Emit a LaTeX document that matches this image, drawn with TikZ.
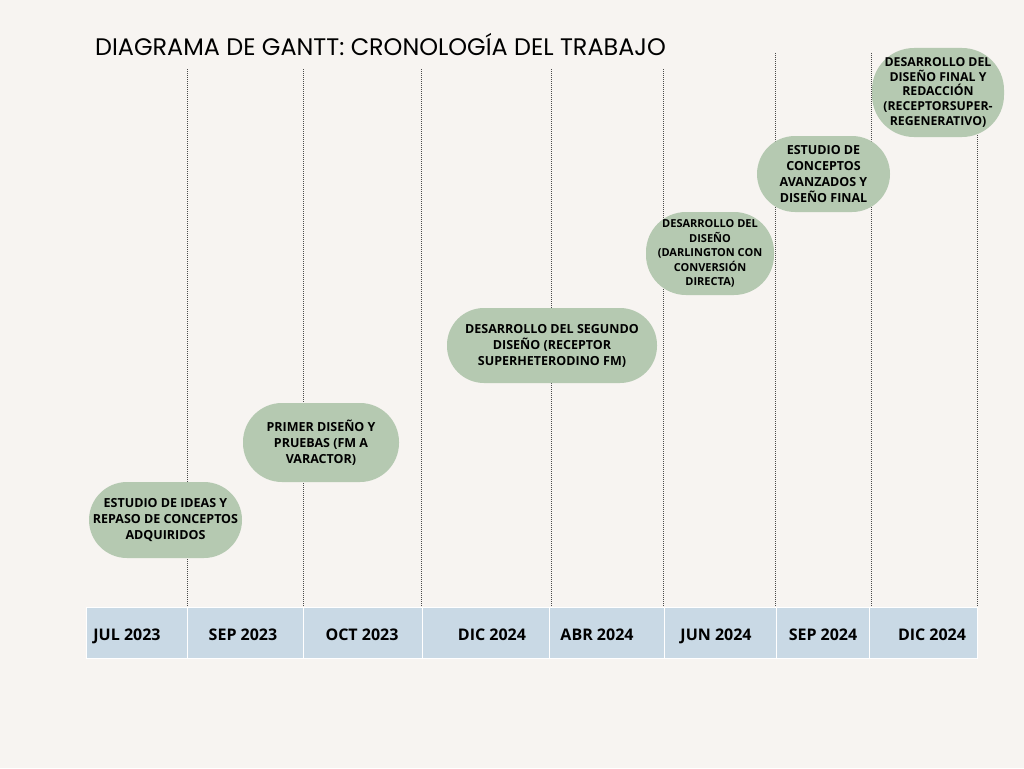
\documentclass[tikz,border=0pt]{standalone}
\usepackage{fontspec}
\usepackage{tikz}
\usetikzlibrary{calc}
\newfontfamily\titlefont{Poppins}
\newfontfamily\boxfont{Open Sans}
\definecolor{paper}{HTML}{F7F4F1}
\definecolor{sage}{HTML}{B5C9B1}
\definecolor{cellblue}{HTML}{C9D9E5}
\definecolor{guide}{HTML}{4A4A4A}

\begin{document}
\begin{tikzpicture}[x=1pt,y=-1pt]
    \tikzstyle{task}=[fill=sage,draw=none,inner sep=0pt,align=center,font=\boxfont\bfseries\fontsize{12.5}{16}\selectfont]
    \tikzstyle{month}=[fill=cellblue,draw=white,line width=0.8pt,minimum height=51pt,inner sep=0pt]
    \tikzstyle{monthlabel}=[anchor=base,font=\boxfont\bfseries\fontsize{16}{18}\selectfont]
    \tikzstyle{guideline}=[draw=guide,line width=0.8pt,dash pattern=on 1pt off 1pt]

    % page
    \fill[paper] (0,0) rectangle (1024,768);
    \useasboundingbox (0,0) rectangle (1024,768);

    % title
    \node[anchor=base west,inner sep=0pt,font=\titlefont\fontsize{23.9}{28}\selectfont] (title) at (95,56) {DIAGRAMA DE GANTT: CRONOLOGÍA DEL TRABAJO};

    % vertical dotted guides
    \draw[guideline] (187,69) -- (187,607);
    \draw[guideline] (303,69) -- (303,607);
    \draw[guideline] (421,69) -- (421,607);
    \draw[guideline] (551,69) -- (551,607);
    \draw[guideline] (663,69) -- (663,607);
    \draw[guideline] (775,53) -- (775,607);
    \draw[guideline] (871,53) -- (871,607);
    \draw[guideline] (977,53) -- (977,607);

    % tasks
    \node[task,minimum width=153pt,minimum height=76pt,rounded corners=38pt] (t1) at (165.5,520)
      {ESTUDIO DE IDEAS Y\\REPASO DE CONCEPTOS\\ADQUIRIDOS};
    \node[task,minimum width=156pt,minimum height=79pt,rounded corners=39pt] (t2) at (321,442.5)
      {PRIMER DISEÑO Y\\PRUEBAS (FM A\\VARACTOR)};
    \node[task,minimum width=210pt,minimum height=75pt,rounded corners=37pt] (t3) at (552,345.5)
      {DESARROLLO DEL SEGUNDO\\DISEÑO (RECEPTOR\\SUPERHETERODINO FM)};
    \node[task,minimum width=128pt,minimum height=83pt,rounded corners=40pt,font=\boxfont\bfseries\fontsize{11}{14.4}\selectfont] (t4) at (710,253.5)
      {DESARROLLO DEL\\DISEÑO\\(DARLINGTON CON\\CONVERSIÓN\\DIRECTA)};
    \node[task,minimum width=133pt,minimum height=76pt,rounded corners=38pt] (t5) at (823.5,174)
      {ESTUDIO DE\\CONCEPTOS\\AVANZADOS Y\\DISEÑO FINAL};
    \node[task,minimum width=132pt,minimum height=89pt,rounded corners=42pt,font=\boxfont\bfseries\fontsize{12.3}{14.8}\selectfont] (t6) at (938,92.5)
      {DESARROLLO DEL\\DISEÑO FINAL Y\\REDACCIÓN\\(RECEPTORSUPER-\\REGENERATIVO)};

    % time line
    \path[month] (86,607) rectangle (187,658);
    \path[month] (187,607) rectangle (303,658);
    \path[month] (303,607) rectangle (422,658);
    \path[month] (422,607) rectangle (549,658);
    \path[month] (549,607) rectangle (664,658);
    \path[month] (664,607) rectangle (776,658);
    \path[month] (776,607) rectangle (869,658);
    \path[month] (869,607) rectangle (977,658);

    % month labels
    \node[monthlabel] (m1) at (127,640) {JUL 2023};
    \node[monthlabel] (m2) at (243,640) {SEP 2023};
    \node[monthlabel] (m3) at (362,640) {OCT 2023};
    \node[monthlabel] (m4) at (492,640) {DIC 2024};
    \node[monthlabel] (m5) at (597,640) {ABR 2024};
    \node[monthlabel] (m6) at (716,640) {JUN 2024};
    \node[monthlabel] (m7) at (823,640) {SEP 2024};
    \node[monthlabel] (m8) at (932,640) {DIC 2024};
\end{tikzpicture}
\end{document}
